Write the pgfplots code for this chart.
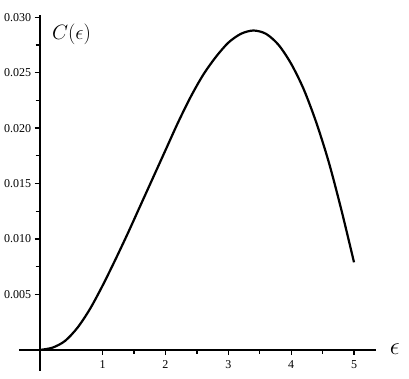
\documentclass[border=0pt]{standalone}
\usepackage{fontspec}
\setmainfont{Liberation Serif}
\usepackage{pgfplots}
\pgfplotsset{compat=1.18}

\begin{document}
\begin{tikzpicture}
\begin{axis}[
    scale only axis,
    width  = 357pt,
    height = 356pt,
    axis lines = middle,
    axis line style = {-, line width=1.8pt},
    xmin = -0.33, xmax = 5.35,
    ymin = -0.0019, ymax = 0.0302,
    xtick = {1,2,3,4,5},
    ytick = {0.005,0.010,0.015,0.020,0.025,0.030},
    minor x tick num = 1,
    minor y tick num = 1,
    tick align = outside,
    major tick length = 5pt,
    minor tick length = 4pt,
    tick style = {black, line width=1.3pt},
    scaled y ticks = false,
    ticklabel style = {font=\fontsize{12}{14}\selectfont},
    xticklabel style = {yshift=-2pt},
    /pgf/number format/assume math mode=true,
    yticklabel style = {/pgf/number format/fixed,
                        /pgf/number format/fixed zerofill,
                        /pgf/number format/precision=3},
    clip = false,
]
\addplot[black, line width=2.2pt, smooth] coordinates {
    (0,0) (0.2,0.0002) (0.4,0.0008) (0.6,0.0020) (0.8,0.0037)
    (1.0,0.0058) (1.2,0.0081) (1.4,0.0105) (1.6,0.0130) (1.8,0.0155)
    (2.0,0.0180) (2.2,0.0205) (2.4,0.0228) (2.6,0.0248) (2.8,0.0264)
    (3.0,0.0277) (3.2,0.0285) (3.4,0.0288) (3.6,0.0285) (3.8,0.0275)
    (4.0,0.0258) (4.2,0.0235) (4.4,0.0205) (4.6,0.0169) (4.8,0.0126)
    (5.0,0.0079)};

\node[anchor=west, font=\fontsize{22}{26}\selectfont] at (axis cs:0.14,0.0285) {$C(\epsilon)$};
\node[font=\fontsize{23}{26}\selectfont] at (axis cs:5.65,0.0001) {$\epsilon$};

\coordinate (bl) at (rel axis cs:-0.0532,-0.0197);
\coordinate (tr) at (rel axis cs:1.0924,1.0421);
\end{axis}
\pgfresetboundingbox
\path[use as bounding box] (bl) rectangle (tr);
\end{tikzpicture}
\end{document}
